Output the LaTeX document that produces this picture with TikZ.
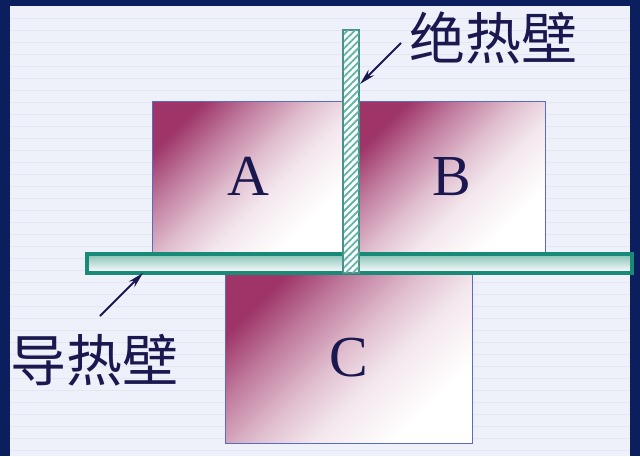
\documentclass[tikz,border=0pt]{standalone}
\usepackage{fontspec}
\setmainfont{Liberation Serif}
\newfontfamily\cjk{Noto Sans CJK SC}
\usetikzlibrary{patterns.meta,arrows.meta}
\definecolor{navyframe}{HTML}{0B1E5E}
\definecolor{bgpaper}{HTML}{EEF0FA}
\definecolor{bgline}{HTML}{E4E6F3}
\definecolor{maroon}{HTML}{9E3468}
\definecolor{boxedge}{HTML}{5A6BC4}
\definecolor{tealwall}{HTML}{1A8A78}
\definecolor{hatch}{HTML}{5DB5A9}
\definecolor{inkblue}{HTML}{1B1850}
\pgfdeclareverticalshading{chambershade}{100bp}{color(0bp)=(white); color(28bp)=(white); color(42bp)=(maroon!12!white); color(52bp)=(maroon!32!white); color(64bp)=(maroon!65!white); color(75bp)=(maroon); color(100bp)=(maroon)}
\tikzset{
  chamber/.style={draw=boxedge, line width=1pt, shading=chambershade, shading angle=45, inner sep=0pt, text=inkblue, font=\fontsize{58}{58}\selectfont},
  condwall/.style={draw=tealwall, line width=4pt, top color=tealwall!55, bottom color=white, inner sep=0pt},
  adiawall/.style={draw=hatch!80!black, line width=1.2pt, fill=white, inner sep=0pt},
  walllabel/.style={text=inkblue, font=\cjk\fontsize{56}{56}\selectfont, inner sep=0pt},
  pointer/.style={draw=inkblue, line width=2pt, -{Stealth[length=16pt,width=8pt]}}
}
\begin{document}
\begin{tikzpicture}[x=1pt,y=1pt]
\useasboundingbox (0,0) rectangle (640,-456);
\fill[navyframe] (0,0) rectangle (640,-456);
\fill[bgpaper] (10,-6) rectangle (630,-456);
\foreach \yy in {18,30,...,450} \draw[bgline, line width=0.8pt] (10,-\yy) -- (630,-\yy);
% chambers
\node[chamber, minimum width=192pt, minimum height=151pt] (A) at (248,-176.5) {A};
\node[chamber, minimum width=187pt, minimum height=151pt] (B) at (451.5,-176.5) {B};
\node[chamber, minimum width=247pt, minimum height=170pt] (C) at (349,-358) {C};
% conducting wall
\node[condwall, minimum width=545pt, minimum height=19pt] (cond) at (359,-263) {};
% adiabatic wall
\node[adiawall, minimum width=15pt, minimum height=243pt] (adia) at (351,-151.5) {};
\fill[pattern={Lines[angle=45,distance=5pt,line width=1.8pt]}, pattern color=hatch] (adia.south west) rectangle (adia.north east);
\draw[hatch!80!black, line width=1.2pt] (adia.south west) rectangle (adia.north east);
% labels
\node[walllabel] (la) at (493,-38) {绝热壁};
\node[walllabel] (lc) at (94,-360) {导热壁};
\coordinate (ta) at (401,-43);
\coordinate (ha) at (360,-84);
\coordinate (tc) at (100,-316);
\coordinate (hc) at (143,-273);
\draw[pointer] (ta) -- (ha);
\draw[pointer] (tc) -- (hc);
\end{tikzpicture}
\end{document}
